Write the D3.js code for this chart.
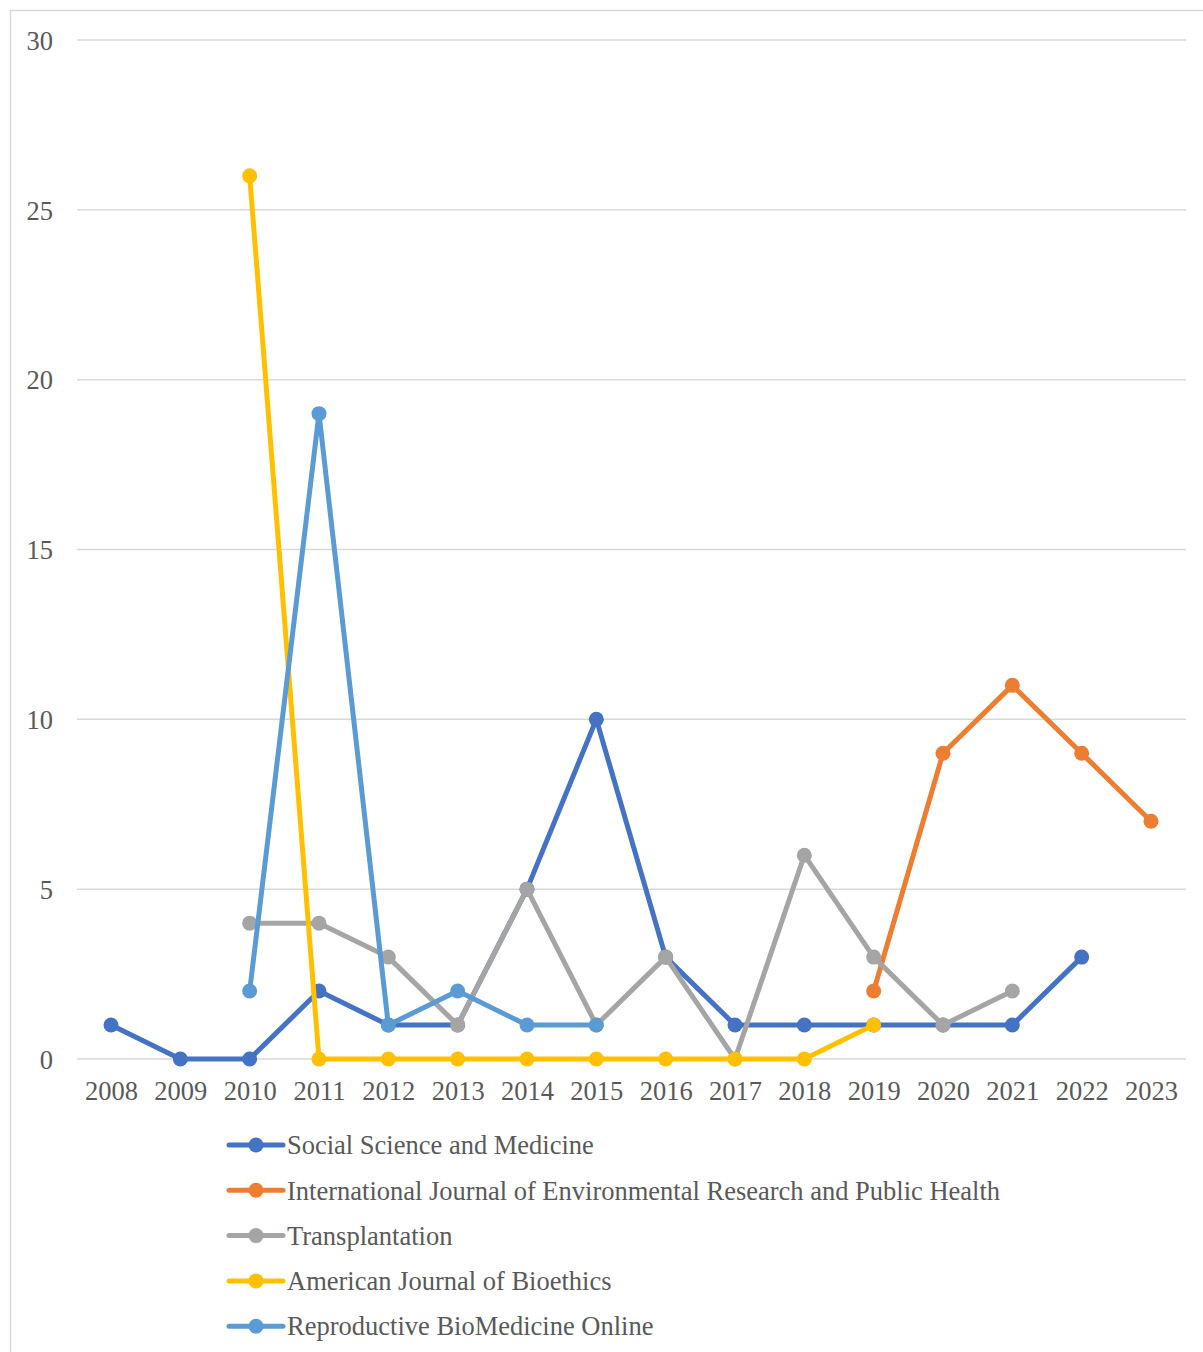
<!DOCTYPE html>
<html>
<head>
<meta charset="utf-8">
<script src="https://cdn.jsdelivr.net/npm/d3@7"></script>
<style>
  body { margin: 0; background: #fff; }
  svg text { font-family: "Liberation Serif", "Times New Roman", serif; }
</style>
</head>
<body>
<div id="chart"></div>
<script>
var years = [2008, 2009, 2010, 2011, 2012, 2013, 2014, 2015, 2016, 2017, 2018, 2019, 2020, 2021, 2022, 2023]
var yTicks = [0, 5, 10, 15, 20, 25, 30]

var seriesNames = [
  "Social Science and Medicine",
  "International Journal of Environmental Research and Public Health",
  "Transplantation",
  "American Journal of Bioethics",
  "Reproductive BioMedicine Online"
]
var seriesColors = ["#4472C4", "#ED7D31", "#A5A5A5", "#FFC000", "#5B9BD5"]

// null = no value for that year
var socialScience = [1, 0, 0, 2, 1, 1, 5, 10, 3, 1, 1, 1, 1, 1, 3, null]
var ijerph = [null, null, null, null, null, null, null, null, null, null, null, 2, 9, 11, 9, 7]
var transplantation = [null, null, 4, 4, 3, 1, 5, 1, 3, 0, 6, 3, 1, 2, null, null]
var bioethics = [null, null, 26, 0, 0, 0, 0, 0, 0, 0, 0, 1, null, null, null, null]
var reproBio = [null, null, 2, 19, 1, 2, 1, 1, null, null, null, null, null, null, null, null]

var seriesValues = [socialScience, ijerph, transplantation, bioethics, reproBio]

var W = 1203, H = 1352
var fontSize = 26.5

var svg = d3.select("#chart")
    .append("svg")
    .attr("width", W)
    .attr("height", H)

// chart frame
svg.append("rect")
    .attr("x", 10.5)
    .attr("y", 10.5)
    .attr("width", W + 20)
    .attr("height", H + 20)
    .attr("fill", "none")
    .attr("stroke", "#d9d9d9")
    .attr("stroke-width", 1.5)

var left = 77, right = 1186

var x = d3.scalePoint()
    .domain(years)
    .range([111, 1151])

var y = d3.scaleLinear()
    .domain([0, 30])
    .range([1059, 40])

// grid lines
svg.selectAll(".grid")
    .data(yTicks)
    .enter()
        .append("line")
        .attr("class", "grid")
        .attr("x1", left)
        .attr("x2", right)
        .attr("y1", function(d){return y(d);})
        .attr("y2", function(d){return y(d);})
        .attr("stroke", "#d9d9d9")
        .attr("stroke-width", 1.5)

// y axis labels
var yAxis = d3.axisLeft(y).tickValues(yTicks).tickSize(0).tickPadding(0)
var gy = svg.append("g")
    .attr("transform", "translate(53,0)")
    .call(yAxis)
gy.select(".domain").remove()
gy.selectAll("text")
    .style("font-family", "'Liberation Serif', 'Times New Roman', serif")
    .style("font-size", fontSize + "px")
    .attr("fill", "#595959")
    .attr("dy", "0.35em")

// x axis labels
var xAxis = d3.axisBottom(x).tickSize(0).tickPadding(0)
var gx = svg.append("g")
    .attr("transform", "translate(0,1091)")
    .call(xAxis)
gx.select(".domain").remove()
gx.selectAll("text")
    .style("font-family", "'Liberation Serif', 'Times New Roman', serif")
    .style("font-size", fontSize + "px")
    .attr("fill", "#595959")
    .attr("dy", "0.35em")

var line = d3.line()
    .defined(function(d){return d.v !== null;})
    .x(function(d){return x(d.year);})
    .y(function(d){return y(d.v);})

for(var i = 0; i < seriesValues.length; i++)
{
    var pts = years.map(function(yr, k){return {"year" : yr, "v" : seriesValues[i][k]};})
    var g = svg.append("g")

    g.append("path")
        .datum(pts)
        .attr("d", line)
        .attr("fill", "none")
        .attr("stroke", seriesColors[i])
        .attr("stroke-width", 5)
        .attr("stroke-linejoin", "round")

    g.selectAll("circle")
        .data(pts.filter(function(d){return d.v !== null;}))
        .enter()
            .append("circle")
            .attr("cx", function(d){return x(d.year);})
            .attr("cy", function(d){return y(d.v);})
            .attr("r", 7.5)
            .attr("fill", seriesColors[i])
}

// legend
var legend = svg.selectAll(".legend")
    .data(seriesNames)
    .enter()
        .append("g")
        .attr("class", "legend")
        .attr("transform", function(d, i){return "translate(0," + (1145 + i * 45.3) + ")";})

legend.append("line")
    .attr("x1", 229)
    .attr("x2", 283)
    .attr("y1", 0)
    .attr("y2", 0)
    .attr("stroke", function(d, i){return seriesColors[i];})
    .attr("stroke-width", 5)
    .attr("stroke-linecap", "round")

legend.append("circle")
    .attr("cx", 256)
    .attr("cy", 0)
    .attr("r", 7.5)
    .attr("fill", function(d, i){return seriesColors[i];})

legend.append("text")
    .attr("x", 287)
    .attr("y", 0)
    .attr("dy", "0.35em")
    .style("font-size", fontSize + "px")
    .attr("fill", "#595959")
    .text(function(d){return d;})
</script>
</body>
</html>
